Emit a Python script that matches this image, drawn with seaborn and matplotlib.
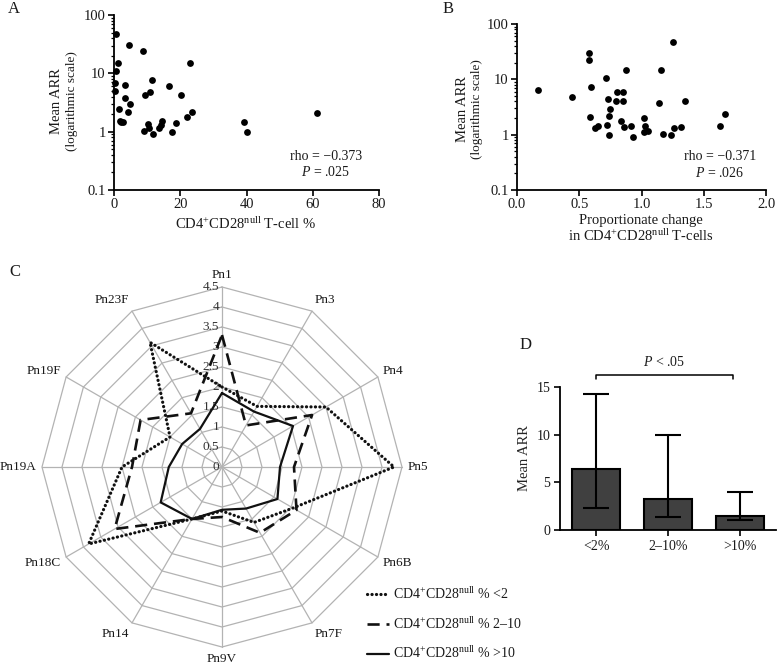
import numpy as np
import matplotlib
matplotlib.use('Agg')
import matplotlib.pyplot as plt
from matplotlib.ticker import FuncFormatter, NullFormatter
from matplotlib.lines import Line2D
import seaborn as sns

# Panel A: CD4+CD28null T-cell % vs mean ARR
a_pct = [0.6, 4.6, 8.9, 1.2, 22.8, 0.6, 11.5, 0.3, 3.4, 16.7, 0.3, 10.9, 9.3, 20.1,
         3.2, 4.8, 1.4, 4.1, 23.6, 21.9, 61.2, 1.8, 2.2, 2.8, 14.4, 14.2, 10.2, 10.6,
         13.5, 18.8, 39.3, 40.1, 9.0, 17.5, 11.7]
a_arr = [48, 31, 23.9, 15.3, 15.3, 10.9, 7.7, 6.7, 6.2, 6.0, 4.9, 4.8, 4.2, 4.2,
         3.8, 3.0, 2.46, 2.2, 2.16, 1.8, 2.05, 1.5, 1.45, 1.45, 1.53, 1.31, 1.33, 1.16,
         1.16, 1.42, 1.45, 0.98, 1.03, 0.98, 0.91]

# Panel B: proportionate change vs mean ARR
b_change = [0.169, 0.438, 0.577, 0.577, 0.598, 0.711, 0.588, 0.733, 0.795, 0.853,
            0.746, 0.740, 0.627, 0.649, 0.725, 0.741, 0.802, 0.848, 0.873, 0.835,
            0.859, 0.918, 0.929, 1.02, 1.03, 1.02, 1.05, 1.144, 1.157, 1.176,
            1.251, 1.238, 1.265, 1.348, 1.318, 1.632, 1.667]
b_arr = [6.5, 4.8, 29.9, 22.6, 7.4, 10.4, 2.1, 4.5, 4.1, 4.1,
         2.9, 2.2, 1.3, 1.44, 1.5, 0.98, 6.0, 5.8, 14.5, 1.78,
         1.4, 1.41, 0.91, 2.0, 1.42, 1.13, 1.16, 3.7, 14.5, 1.02,
         47.9, 0.98, 1.31, 4.1, 1.37, 1.42, 2.4]

# Panel C: radar by serotype
serotypes = ['Pn1', 'Pn3', 'Pn4', 'Pn5', 'Pn6B', 'Pn7F', 'Pn9V', 'Pn14',
             'Pn18C', 'Pn19A', 'Pn19F', 'Pn23F']
grp_low = [2.0, 1.75, 3.0, 4.3, 2.05, 1.6, 1.1, 1.5, 3.85, 2.5, 1.5, 3.6]
grp_mid = [3.3, 1.2, 2.6, 1.8, 2.15, 1.9, 1.25, 1.5, 3.1, 2.25, 2.35, 1.55]
grp_high = [1.85, 1.6, 2.05, 1.45, 1.6, 1.2, 1.07, 1.5, 1.77, 1.33, 1.15, 1.1]
radar_levels = [0, 0.5, 1, 1.5, 2, 2.5, 3, 3.5, 4, 4.5]

# Panel D: mean ARR by group
groups = ['<2%', '2\u201310%', '>10%']
bar_mean = [6.4, 3.3, 1.5]
bar_lo = [2.3, 1.4, 1.1]
bar_hi = [14.3, 10.0, 4.0]

sns.set_theme(style='ticks')
plt.rcParams['font.family'] = ['Liberation Serif', 'DejaVu Serif']
plt.rcParams['mathtext.fontset'] = 'custom'
plt.rcParams['mathtext.rm'] = 'Liberation Serif'
plt.rcParams['mathtext.it'] = 'Liberation Serif:italic'
plt.rcParams['text.color'] = '#1a1a1a'

W, H = 777, 667
fig = plt.figure(figsize=(W / 100, H / 100), dpi=100)


def rect(x0, y0, x1, y1):
    return [x0 / W, 1 - y1 / H, (x1 - x0) / W, (y1 - y0) / H]


def pt(x, y):
    return x / W, 1 - y / H


cd_label = r'CD4$^{+}$CD28$^{\mathrm{null}}$'


def scatter_panel(box, x, y, xlim, xticks, fmt):
    ax = fig.add_axes(box)
    sns.scatterplot(x=x, y=y, ax=ax, color='black', s=24, linewidth=0)
    ax.collections[0].set_clip_on(False)
    ax.set_yscale('log')
    ax.set_ylim(0.1, 100)
    ax.set_xlim(*xlim)
    ax.set_xticks(xticks)
    ax.xaxis.set_major_formatter(FuncFormatter(lambda v, p: fmt.format(v)))
    ax.set_yticks([0.1, 1, 10, 100])
    ax.yaxis.set_major_formatter(FuncFormatter(lambda v, p: f'{v:g}'))
    ax.yaxis.set_minor_formatter(NullFormatter())
    sns.despine(ax=ax)
    for s in ['left', 'bottom']:
        ax.spines[s].set_linewidth(1.3)
        ax.spines[s].set_color('black')
    ax.tick_params(which='major', length=4, width=1.2, labelsize=10.5, pad=2, colors='black',
                   labelcolor='#1a1a1a')
    ax.tick_params(which='minor', length=2.5, width=0.9, colors='black')
    ax.set_facecolor('none')
    return ax


# ---- A
axA = scatter_panel(rect(114, 15, 379, 190), a_pct, a_arr, (0, 80), [0, 20, 40, 60, 80], '{:g}')
fig.text(*pt(56, 101), 'Mean ARR', rotation=90, ha='center', va='center', fontsize=10.5)
fig.text(*pt(72, 101), '(logarithmic scale)', rotation=90, ha='center', va='center', fontsize=9.5)
fig.text(*pt(246, 224), cd_label + ' T-cell %', ha='center', va='center', fontsize=10.5)
axA.text(0.80, 0.19, 'rho = \u22120.373', transform=axA.transAxes, ha='center', va='center', fontsize=10)
axA.text(0.80, 0.10, r'$P$ = .025', transform=axA.transAxes, ha='center', va='center', fontsize=10)
fig.text(*pt(14, 9), 'A', ha='center', va='center', fontsize=12)

# ---- B
axB = scatter_panel(rect(517, 24, 766, 190), b_change, b_arr, (0, 2), [0, 0.5, 1, 1.5, 2], '{:.1f}')
fig.text(*pt(462, 109), 'Mean ARR', rotation=90, ha='center', va='center', fontsize=10.5)
fig.text(*pt(477, 109), '(logarithmic scale)', rotation=90, ha='center', va='center', fontsize=9.5)
fig.text(*pt(641, 221), 'Proportionate change', ha='center', va='center', fontsize=10.5)
fig.text(*pt(641, 236), 'in ' + cd_label + ' T-cells', ha='center', va='center', fontsize=10.5)
axB.text(0.815, 0.20, 'rho = \u22120.371', transform=axB.transAxes, ha='center', va='center', fontsize=10)
axB.text(0.815, 0.105, r'$P$ = .026', transform=axB.transAxes, ha='center', va='center', fontsize=10)
fig.text(*pt(448, 9), 'B', ha='center', va='center', fontsize=12)

# ---- C radar
axC = fig.add_axes(rect(42, 287, 402, 647), projection='polar')
axC.set_theta_zero_location('N')
axC.set_theta_direction(-1)
axC.set_ylim(0, max(radar_levels))
axC.grid(False)
axC.spines['polar'].set_visible(False)
axC.set_xticks([])
axC.set_yticks([])
axC.set_facecolor('none')

theta = np.linspace(0, 2 * np.pi, len(serotypes), endpoint=False)
closed = np.append(theta, theta[0])
grid_col = '#b3b3b3'
for lvl in radar_levels[1:]:
    axC.plot(closed, [lvl] * len(closed), color=grid_col, lw=0.9, clip_on=False, zorder=1)
for t in theta:
    axC.plot([t, t], [0, radar_levels[-1]], color=grid_col, lw=0.9, clip_on=False, zorder=1)
for lvl in radar_levels:
    axC.annotate(f'{lvl:g}', (0, lvl), xytext=(-2, 0), textcoords='offset points',
                 ha='right', va='center', fontsize=9.5, color='#333333', zorder=2)

rmax = radar_levels[-1]
for t, name in zip(theta, serotypes):
    s, c = np.sin(t), np.cos(t)
    ha = 'center' if abs(s) < 0.1 else ('left' if s > 0 else 'right')
    axC.annotate(name, (t, rmax), xytext=(4 * s, 9 * c), textcoords='offset points',
                 ha=ha, va='center', fontsize=9.5)

series = [
    (grp_low, dict(linestyle=(0, (0.05, 1.35)), lw=2.3, dash_capstyle='round'),
     cd_label + ' % <2'),
    (grp_mid, dict(linestyle=(0, (4.6, 2.6)), lw=1.9),
     cd_label + ' % 2\u201310'),
    (grp_high, dict(linestyle='-', lw=1.6),
     cd_label + ' % >10'),
]
handles = []
for vals, style, lab in series:
    vv = np.append(vals, vals[0])
    axC.plot(closed, vv, color='#111111', zorder=3, **style)
    handles.append(Line2D([], [], color='#111111', **style))
fig.legend(handles, [s[2] for s in series], loc='upper left', bbox_to_anchor=pt(367, 586),
           frameon=False, borderaxespad=0, borderpad=0, handlelength=1.6,
           handletextpad=0.25, labelspacing=1.0, fontsize=10)
fig.text(*pt(15, 272), 'C', ha='center', va='center', fontsize=12)

# ---- D bars
axD = fig.add_axes(rect(560, 387, 776, 530))
sns.barplot(x=groups, y=bar_mean, ax=axD, color='#404040', saturation=1,
            edgecolor='black', linewidth=1.5, width=0.68, errorbar=None, zorder=2)
xs = np.arange(len(groups))
means = np.array(bar_mean)
axD.errorbar(xs, means, yerr=[means - np.array(bar_lo), np.array(bar_hi) - means],
             fmt='none', ecolor='black', elinewidth=1.5, capsize=9.5, capthick=1.5, zorder=3)
axD.set_xlim(-0.5, len(groups) - 0.5)
axD.set_ylim(0, 15)
axD.set_yticks([0, 5, 10, 15])
axD.set_ylabel('Mean ARR', fontsize=10.5, labelpad=4)
axD.set_xlabel('')
sns.despine(ax=axD)
for s in ['left', 'bottom']:
    axD.spines[s].set_linewidth(1.3)
    axD.spines[s].set_color('black')
axD.tick_params(length=4, width=1.2, labelsize=10, pad=3, colors='black', labelcolor='#1a1a1a')
axD.set_facecolor('none')

# significance bracket between first and last group
br_y, br_tick = 16.3, 0.5
br_x0, br_x1 = xs[0], xs[-1] - 0.1
axD.plot([br_x0, br_x0, br_x1, br_x1], [br_y - br_tick, br_y, br_y, br_y - br_tick],
         color='black', lw=1.1, clip_on=False)
axD.text((br_x0 + br_x1) / 2, br_y + 0.6, r'$P$ < .05', ha='center', va='bottom', fontsize=10)
fig.text(*pt(526, 345), 'D', ha='center', va='center', fontsize=12)

fig.savefig('out.png', dpi=100)
